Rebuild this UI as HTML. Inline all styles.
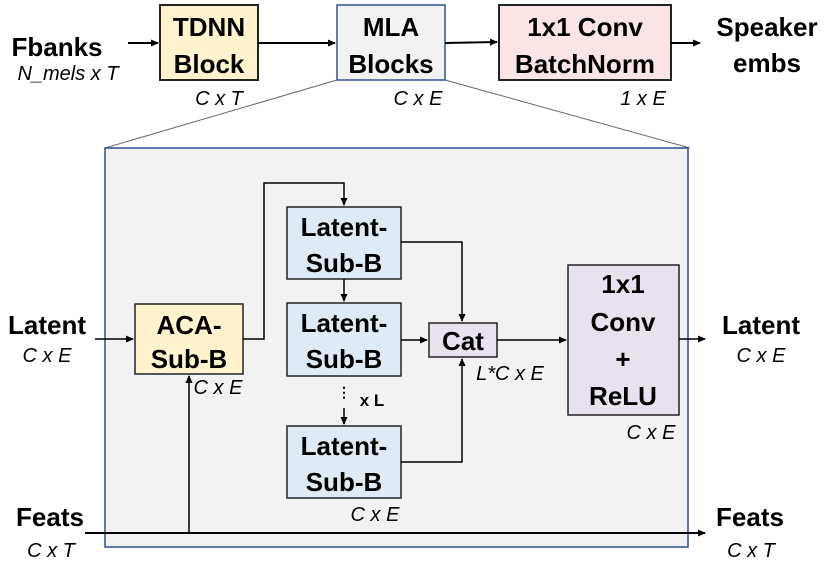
<!DOCTYPE html>
<html><head><meta charset="utf-8"><style>
html,body{margin:0;padding:0;background:#fff;}
svg{display:block;font-family:"Liberation Sans",sans-serif;}
.b{font-weight:bold;font-size:26px;fill:#000;text-anchor:middle;}
.i{font-style:italic;font-size:20px;fill:#000;text-anchor:middle;}
</style></head><body>
<svg width="830" height="569" viewBox="0 0 830 569" xmlns="http://www.w3.org/2000/svg">
<defs><marker id="a" markerWidth="8" markerHeight="8" refX="7" refY="4" orient="auto" markerUnits="userSpaceOnUse"><path d="M0,0.5 L8,4 L0,7.5z" fill="#000"/></marker></defs>
<line x1="337" y1="80" x2="105" y2="148" stroke="#666" stroke-width="1"/>
<line x1="445" y1="80" x2="690" y2="148" stroke="#666" stroke-width="1"/>
<rect x="105" y="148" width="583" height="399" fill="#f2f2f2" stroke="#2f4f8f" stroke-width="1.5"/>
<rect x="160" y="5" width="98" height="75" fill="#fff2cc" stroke="#222" stroke-width="2"/>
<text class="b" x="209" y="36">TDNN</text><text class="b" x="209" y="73">Block</text>
<rect x="337" y="5" width="108" height="75" fill="#f2f2f2" stroke="#2f5597" stroke-width="1.5"/>
<text class="b" x="391" y="36">MLA</text><text class="b" x="391" y="73">Blocks</text>
<rect x="499" y="5" width="172" height="75" fill="#fbe5e4" stroke="#222" stroke-width="2"/>
<text class="b" x="585" y="36">1x1 Conv</text><text class="b" x="585" y="73">BatchNorm</text>
<text class="b" x="57" y="56">Fbanks</text>
<text class="i" x="68" y="80">N_mels x T</text>
<text class="b" x="767" y="36">Speaker</text><text class="b" x="767" y="72">embs</text>
<text class="i" x="219" y="105">C x T</text>
<text class="i" x="418" y="105">C x E</text>
<text class="i" x="643" y="105">1 x E</text>
<g stroke="#000" stroke-width="2" fill="none">
<line x1="128" y1="43" x2="158" y2="43" marker-end="url(#a)"/>
<line x1="258" y1="43" x2="335" y2="43" marker-end="url(#a)"/>
<line x1="445" y1="43" x2="497" y2="42" marker-end="url(#a)"/>
<line x1="671" y1="43" x2="700" y2="43" marker-end="url(#a)"/>
</g>
<rect x="135" y="304" width="108" height="70" fill="#fff2cc" stroke="#222" stroke-width="1.5"/>
<text class="b" x="189" y="334">ACA-</text><text class="b" x="189" y="368">Sub-B</text>
<g fill="#deebf7" stroke="#222" stroke-width="1.5">
<rect x="287" y="207" width="114" height="72"/>
<rect x="287" y="303" width="114" height="73"/>
<rect x="287" y="426" width="114" height="72"/>
</g>
<text class="b" x="344" y="236">Latent-</text><text class="b" x="344" y="272">Sub-B</text>
<text class="b" x="344" y="332">Latent-</text><text class="b" x="344" y="368">Sub-B</text>
<text class="b" x="344" y="455">Latent-</text><text class="b" x="344" y="491">Sub-B</text>
<rect x="429" y="323" width="68" height="34" fill="#e8e1ef" stroke="#222" stroke-width="1.5"/>
<text class="b" x="463" y="350">Cat</text>
<rect x="568" y="265" width="111" height="150" fill="#e8e1ef" stroke="#222" stroke-width="1.5"/>
<text class="b" x="623" y="293">1x1</text><text class="b" x="623" y="331">Conv</text>
<text class="b" x="623" y="368">+</text><text class="b" x="623" y="405">ReLU</text>
<text class="b" x="47" y="334">Latent</text><text class="i" x="47" y="362">C x E</text>
<text class="b" x="761" y="334">Latent</text><text class="i" x="761" y="362">C x E</text>
<text class="b" x="50" y="526">Feats</text><text class="i" x="51" y="557">C x T</text>
<text class="b" x="750" y="526">Feats</text><text class="i" x="751" y="557">C x T</text>
<text class="i" x="218" y="394">C x E</text>
<text class="i" x="375" y="521">C x E</text>
<text class="i" x="510" y="380">L*C x E</text>
<text class="i" x="651" y="439">C x E</text>
<text x="372" y="406" style="font-weight:bold;font-size:17px;text-anchor:middle">x L</text>
<text x="344" y="397" style="font-size:14px;text-anchor:middle;font-weight:bold">⋮</text>
<g stroke="#000" stroke-width="1.5" fill="none">
<line x1="95" y1="339" x2="133" y2="339" marker-end="url(#a)"/>
<polyline points="243,339 264,339 264,183 344,183 344,205" marker-end="url(#a)"/>
<line x1="344" y1="279" x2="344" y2="301" marker-end="url(#a)"/>
<line x1="344" y1="408" x2="344" y2="424" marker-end="url(#a)"/>
<polyline points="401,242 462,242 462,321" marker-end="url(#a)"/>
<line x1="401" y1="340" x2="427" y2="340" marker-end="url(#a)"/>
<polyline points="401,462 462,462 462,359" marker-end="url(#a)"/>
<line x1="497" y1="340" x2="566" y2="340" marker-end="url(#a)"/>
<line x1="679" y1="339" x2="705" y2="339" marker-end="url(#a)"/>
<line x1="189" y1="533" x2="189" y2="376" marker-end="url(#a)"/>
</g>
<line x1="85" y1="533" x2="705" y2="533" stroke="#000" stroke-width="2" marker-end="url(#a)"/>
</svg>
</body></html>
